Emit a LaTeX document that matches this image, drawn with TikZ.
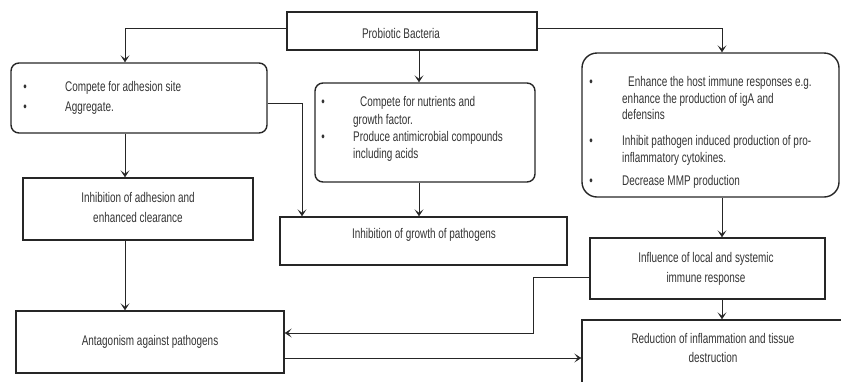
\documentclass[tikz,border=0pt]{standalone}
\usepackage{fontspec}
\setmainfont{Liberation Sans}[FakeStretch=0.71]
\usetikzlibrary{arrows.meta}
\definecolor{lc}{HTML}{262626}
\definecolor{tc}{HTML}{333333}
\tikzset{
  sz/.style 2 args={minimum width=#1, minimum height=#2},
  boxsq/.style={draw=lc, line width=1.4pt, inner sep=0pt},
  boxrd/.style={draw=lc, line width=1.4pt, inner sep=0pt, rounded corners=#1},
  txt/.style={inner sep=0pt, text=tc, font=\fontsize{14}{17}\selectfont},
  tl/.style={txt, anchor=base west},
  tcn/.style={txt, anchor=base},
  bul/.style={inner sep=0pt, text=tc, font=\fontsize{14}{14}\selectfont, anchor=base},
  conn/.style={draw=lc, line width=1pt, -{Stealth[length=7pt,width=9pt,inset=3.5pt]}},
  plain/.style={draw=lc, line width=1pt}
}
\begin{document}
\begin{tikzpicture}[x=1pt,y=-1pt]
\path[use as bounding box] (0,0) rectangle (841,381);
\clip (0,0) rectangle (841,381);

% boxes
\node[boxsq, sz={250pt}{38pt}] (P) at (412,31) {};
\node[boxrd=8pt, sz={256pt}{70pt}] (A) at (139,98) {};
\node[boxrd=8pt, sz={220pt}{99pt}] (B) at (425,132.5) {};
\node[boxrd=15pt, sz={257pt}{144pt}] (C) at (710.5,125) {};
\node[boxsq, sz={287pt}{48pt}] (D) at (423.5,241) {};
\node[boxsq, sz={230pt}{62pt}] (G) at (138,209) {};
\node[boxsq, sz={268pt}{62pt}] (H) at (150,342) {};
\node[boxsq, sz={235pt}{61pt}] (E) at (707.5,268.5) {};
\node[boxsq, sz={278pt}{80pt}] (F) at (721,360) {};

% texts
\node[tcn] (tP) at (401,38) {Probiotic Bacteria};

\node[bul] (bA1) at (25,91) {•};
\node[bul] (bA2) at (25,111) {•};
\node[tl] (tA1) at (65,91) {Compete for adhesion site};
\node[tl] (tA2) at (65,111) {Aggregate.};

\node[bul] (bB1) at (323,106) {•};
\node[bul] (bB2) at (323,141) {•};
\node[tl] (tB1) at (360,106) {Compete for nutrients and};
\node[tl] (tB2) at (353,124) {growth factor.};
\node[tl] (tB3) at (353,141) {Produce antimicrobial compounds};
\node[tl] (tB4) at (353,158) {including acids};

\node[bul] (bC1) at (591,86) {•};
\node[bul] (bC2) at (591,145) {•};
\node[bul] (bC3) at (591,185) {•};
\node[tl] (tC1) at (628,86) {Enhance the host immune responses e.g.};
\node[tl] (tC2) at (622,103) {enhance the production of igA and};
\node[tl] (tC3) at (622,119) {defensins};
\node[tl] (tC4) at (622,145) {Inhibit pathogen induced production of pro-};
\node[tl] (tC5) at (622,162) {inflammatory cytokines.};
\node[tl] (tC6) at (622,185) {Decrease MMP production};

\node[tcn] (tD) at (424,238) {Inhibition of growth of pathogens};
\node[tcn] (tG1) at (138,202) {Inhibition of adhesion and};
\node[tcn] (tG2) at (138,222) {enhanced clearance};
\node[tcn] (tH) at (150,345) {Antagonism against pathogens};
\node[tcn] (tE1) at (706,262) {Influence of local and systemic};
\node[tcn] (tE2) at (706,282) {immune response};
\node[tcn] (tF1) at (713,343) {Reduction of inflammation and tissue};
\node[tcn] (tF2) at (713,362) {destruction};

% guide coordinates
\coordinate (colA) at (125,0);
\coordinate (colB) at (419,0);
\coordinate (colC) at (722,0);
\coordinate (colD) at (302,0);
\coordinate (colR) at (533,0);
\coordinate (rowP) at (0,28);
\coordinate (rowA) at (0,103);
\coordinate (rowE) at (0,277);
\coordinate (rowH1) at (0,333);
\coordinate (rowH2) at (0,358);

% connectors
\draw[conn] (P.west |- rowP) -| (A.north -| colA);
\draw[conn] (P.east |- rowP) -| (C.north -| colC);
\draw[conn] (P.south -| colB) -- (B.north -| colB);
\draw[conn] (A.south -| colA) -- (G.north -| colA);
\draw[conn] (G.south -| colA) -- (H.north -| colA);
\draw[conn] (A.east |- rowA) -| (D.north -| colD);
\draw[conn] (B.south -| colB) -- (D.north -| colB);
\draw[conn] (C.south -| colC) -- (E.north -| colC);
\draw[conn] (E.south -| colC) -- (F.north -| colC);
\draw[conn] (E.west |- rowE) -| (colR |- rowH1) -- (H.east |- rowH1);
\draw[conn] (H.east |- rowH2) -- (F.west |- rowH2);
\end{tikzpicture}
\end{document}
